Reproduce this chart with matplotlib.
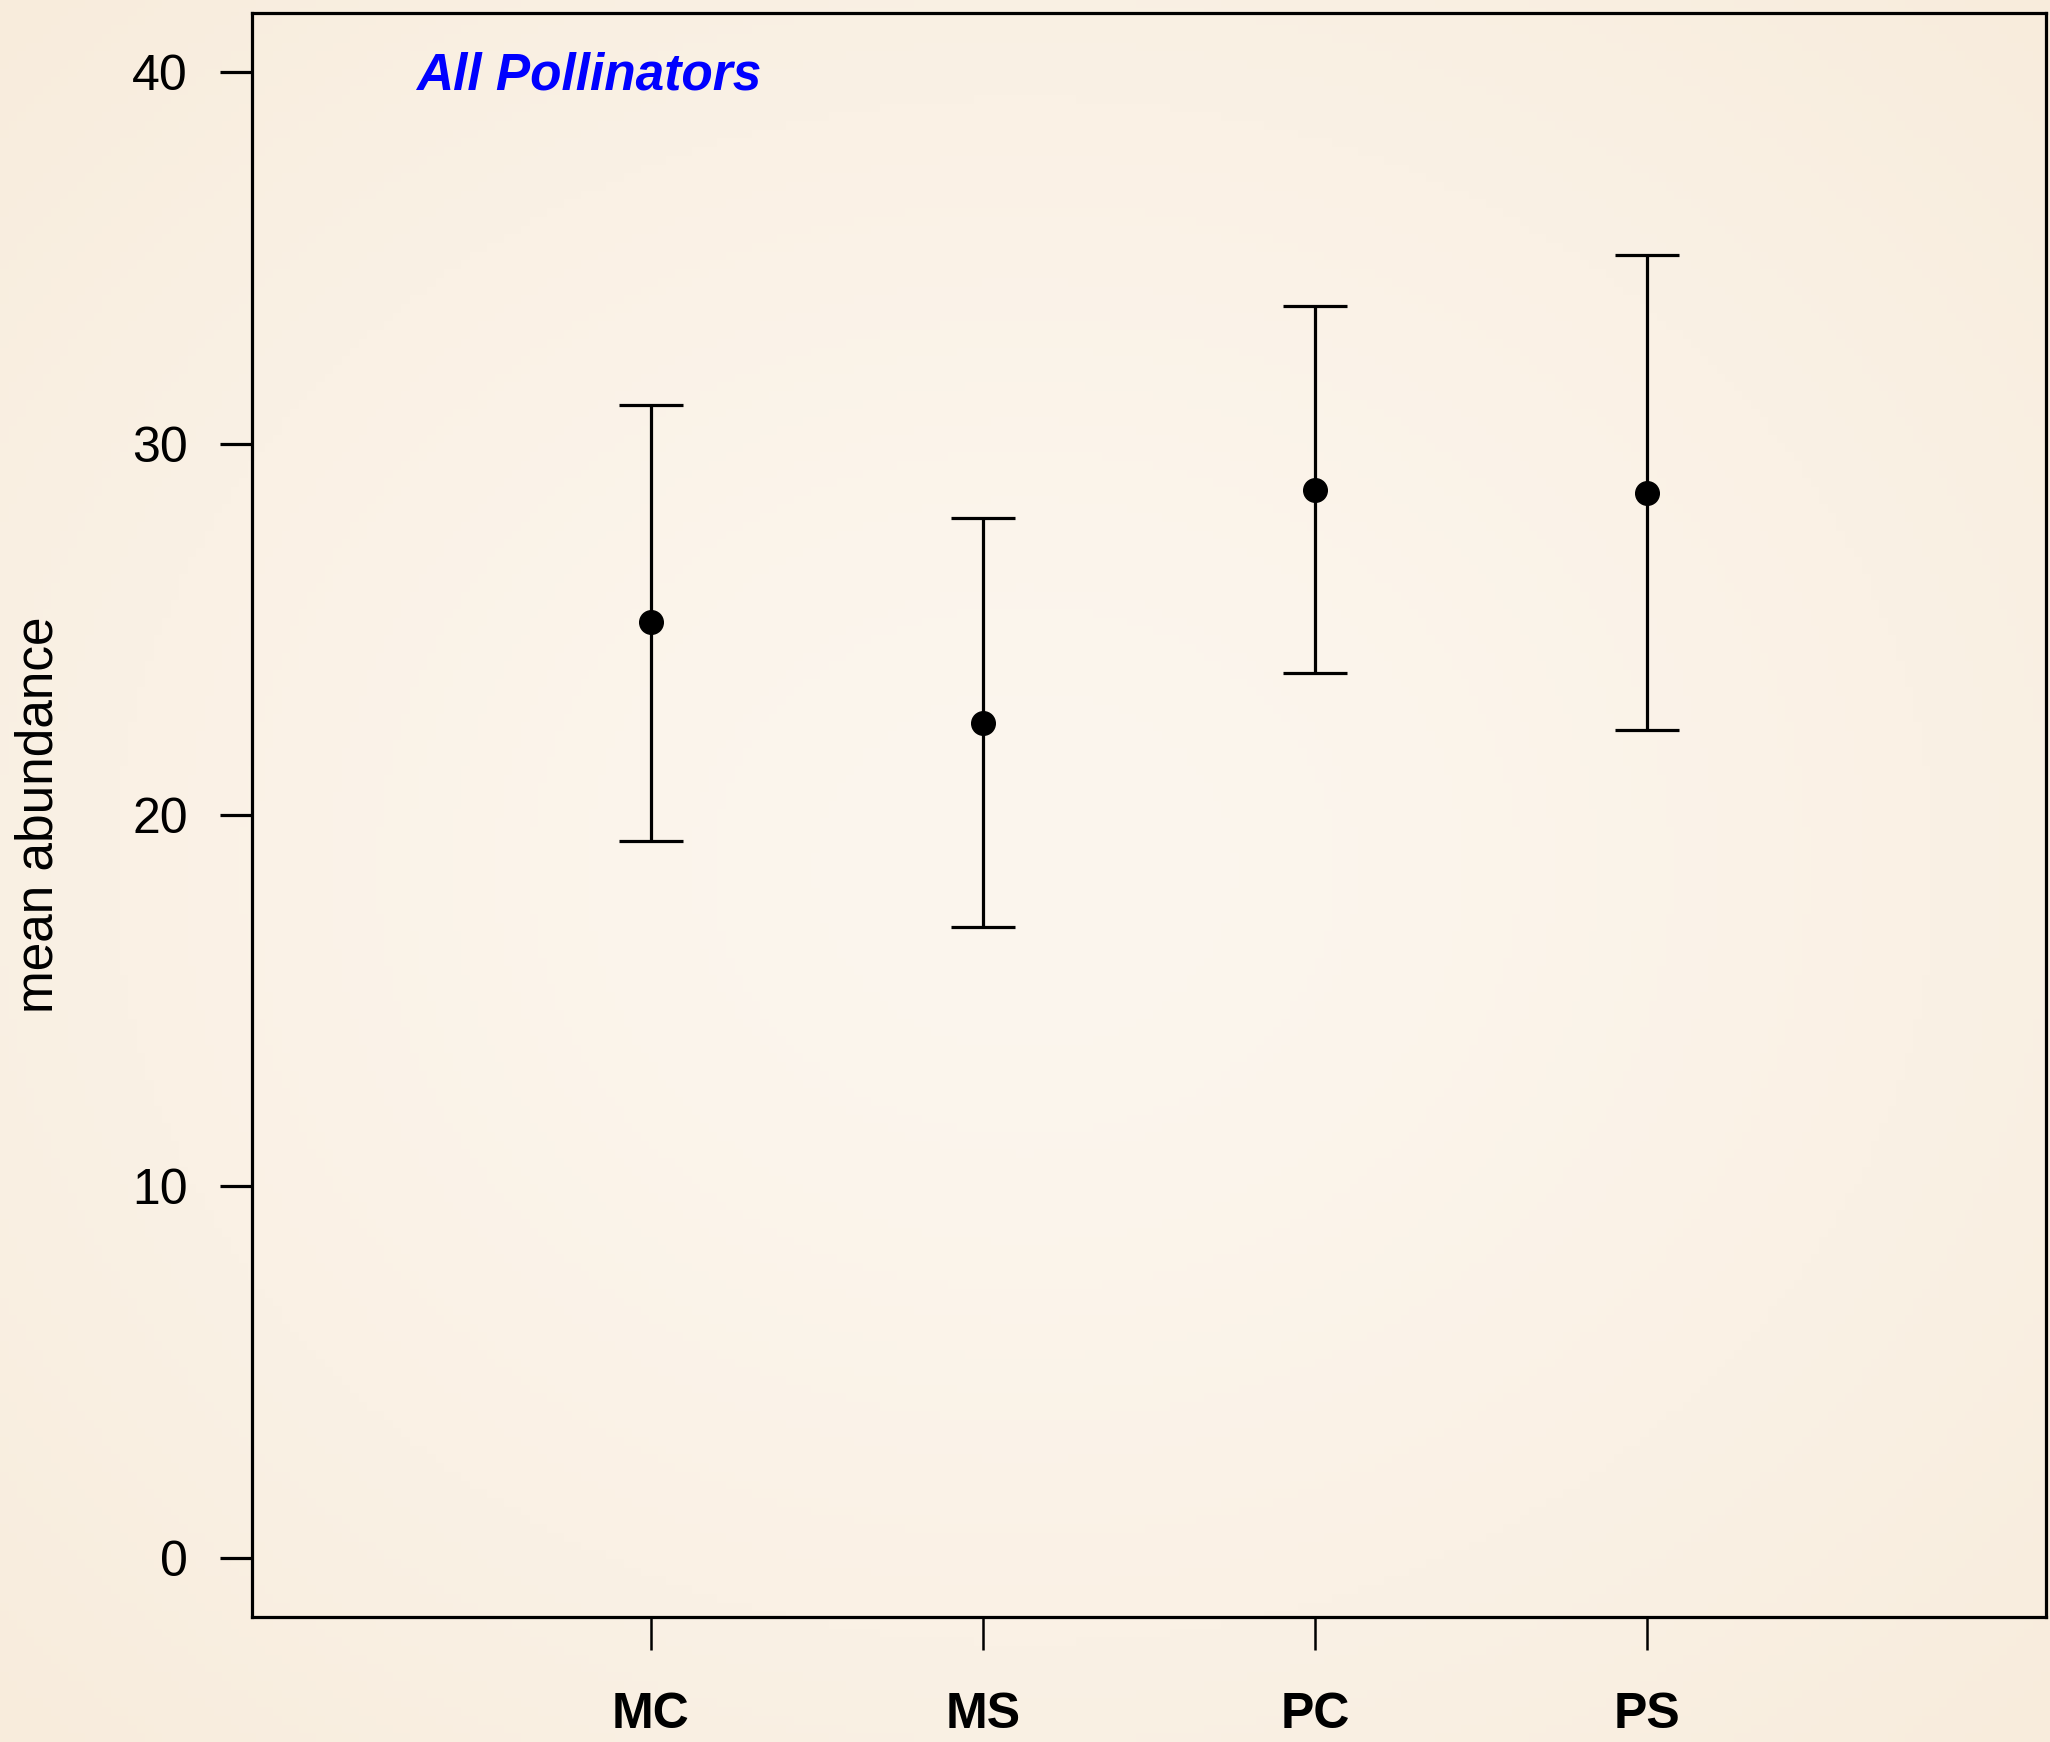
import numpy as np
import matplotlib
matplotlib.use("Agg")
import matplotlib.pyplot as plt

# data
groups = ["MC", "MS", "PC", "PS"]
mean_abund = [25.19, 22.47, 28.76, 28.68]
upper = [31.04, 28.01, 33.71, 35.08]
lower = [19.31, 16.98, 23.83, 22.30]
positions = [1, 2, 3, 4]

plt.rcParams['font.family'] = ['Liberation Sans', 'DejaVu Sans']

fig = plt.figure(figsize=(20.5, 17.42), dpi=100)

# paper-like background, lighter in the middle
bg = fig.add_axes([0, 0, 1, 1], zorder=-10)
yy, xx = np.mgrid[-1:1:200j, -1:1:240j]
r = np.clip(np.sqrt(xx**2 + yy**2) / 1.414, 0, 1) ** 1.5
centre = np.array([252, 246, 238]) / 255
edge = np.array([248, 236, 220]) / 255
img = centre[None, None, :] * (1 - r[..., None]) + edge[None, None, :] * r[..., None]
bg.imshow(img, aspect='auto', extent=[0, 1, 0, 1])
bg.axis('off')

ax = fig.add_axes([252/2050, 1 - 1617/1742, (2046-252)/2050, (1617-13)/1742])
ax.set_facecolor('none')

err_lo = np.array(mean_abund) - np.array(lower)
err_hi = np.array(upper) - np.array(mean_abund)
ax.errorbar(positions, mean_abund, yerr=[err_lo, err_hi], fmt='o', color='black',
            markersize=17, elinewidth=2.3, capsize=23, capthick=2.3)

ax.set_xlim(-0.2, 5.2)
ax.set_ylim(-1.6, 41.6)
ax.set_yticks([0, 10, 20, 30, 40])
ax.set_xticks(positions)
ax.set_xticklabels(groups, fontweight='bold')

for s in ax.spines.values():
    s.set_linewidth(2.3)
ax.tick_params(axis='y', length=23, width=2.3, pad=23, labelsize=36)
ax.tick_params(axis='x', length=24, width=1.8, pad=30, labelsize=36)

ax.set_ylabel("mean abundance", fontsize=37)
ax.yaxis.label.set_va('center')
ax.yaxis.set_label_coords(-0.119, 0.5)

ax.text(0.0914, 0.952, "All Pollinators", transform=ax.transAxes, color='#0000FF',
        fontsize=37, fontweight='bold', fontstyle='italic', va='baseline', ha='left')

fig.savefig("out.png", dpi=100)
